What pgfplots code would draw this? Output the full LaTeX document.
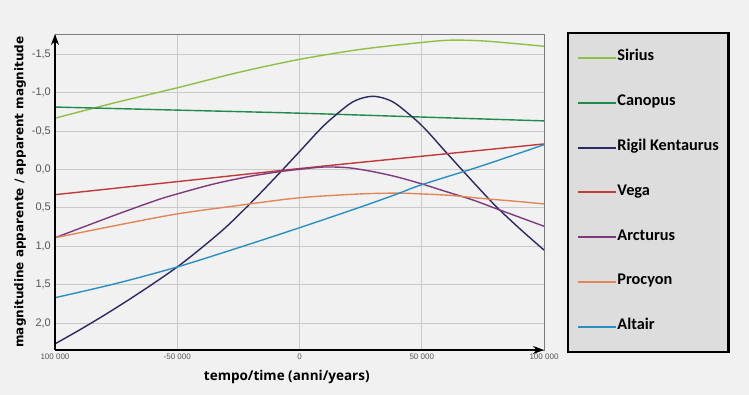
\documentclass[border=0pt]{standalone}
\usepackage{fontspec}
\usepackage{pgfplots}
\usepackage{pgfplotstable}
\pgfplotsset{compat=1.18}
\usetikzlibrary{arrows.meta}
\newfontfamily\carlito{Carlito}
\newfontfamily\opensans{Open Sans}
\newfontfamily\dejavu{DejaVu Sans}
\newfontfamily\libsans{Liberation Sans}
\definecolor{bg}{HTML}{F1F1F1}
\definecolor{leggray}{HTML}{DDDDDD}
\definecolor{gridgray}{HTML}{CACACA}
\definecolor{framegray}{HTML}{7A7A7A}
\definecolor{tickgray}{HTML}{555555}
\definecolor{csirius}{HTML}{8FBF45}
\definecolor{ccanopus}{HTML}{1F8A4C}
\definecolor{crigil}{HTML}{2B2A5E}
\definecolor{cvega}{HTML}{C0393B}
\definecolor{carcturus}{HTML}{7E3A7E}
\definecolor{cprocyon}{HTML}{E0875A}
\definecolor{caltair}{HTML}{2A8FC0}

\pgfplotstableread{
t m
-100000 -0.665
-75000 -0.87
-50000 -1.06
-25000 -1.26
0 -1.43
25000 -1.56
50000 -1.65
62000 -1.68
75000 -1.67
90000 -1.63
100000 -1.60
}\sirius
\pgfplotstableread{
t m
-100000 -0.81
-50000 -0.77
0 -0.73
50000 -0.68
100000 -0.63
}\canopus
\pgfplotstableread{
t m
-100000 2.27
-90000 2.09
-80000 1.90
-70000 1.70
-60000 1.49
-50000 1.27
-40000 1.02
-30000 0.75
-20000 0.44
-10000 0.11
0 -0.23
10000 -0.57
20000 -0.84
25000 -0.92
30000 -0.95
35000 -0.92
40000 -0.84
50000 -0.57
60000 -0.22
70000 0.13
80000 0.47
90000 0.77
100000 1.05
}\rigil
\pgfplotstableread{
t m
-100000 0.33
-50000 0.16
0 -0.01
50000 -0.17
100000 -0.33
}\vega
\pgfplotstableread{
t m
-100000 0.89
-75000 0.59
-58300 0.40
-50000 0.32
-35000 0.19
-20000 0.09
-8000 0.03
0 0.00
10000 -0.03
20000 -0.02
30000 0.03
40000 0.10
50000 0.19
60000 0.29
71000 0.40
82000 0.53
100000 0.74
}\arcturus
\pgfplotstableread{
t m
-100000 0.89
-75000 0.73
-50000 0.58
-25000 0.47
0 0.37
25000 0.32
40000 0.31
50000 0.32
62000 0.34
75000 0.38
90000 0.42
100000 0.45
}\procyon
\pgfplotstableread{
t m
-100000 1.67
-75000 1.485
-50000 1.27
-25000 1.02
0 0.76
25000 0.49
40000 0.32
50000 0.20
75000 -0.05
100000 -0.32
}\altair

\begin{document}
\begin{tikzpicture}
\useasboundingbox (0,0) rectangle (749bp,395bp);
\fill[bg] (0,0) rectangle (749bp,395bp);
\begin{axis}[
  name=main,
  at={(55bp,45bp)}, anchor=south west,
  scale only axis, width=489bp, height=316bp,
  xmin=-100000, xmax=100000, ymin=-1.76, ymax=2.35, y dir=reverse,
  xtick={-100000,-50000,0,50000,100000},
  xticklabels={100 000,-50 000,0,50 000,100 000},
  ytick={-1.5,-1,-0.5,0,0.5,1,1.5,2},
  yticklabels={{-1,5},{-1,0},{-0,5},{0,0},{0,5},{1,0},{1,5},{2,0}},
  scaled x ticks=false,
  major tick length=0pt,
  grid=major, grid style={draw=gridgray, line width=0.6bp},
  axis line style={draw=framegray, line width=0.8bp},
  axis background/.style={fill=bg},
  xticklabel style={font=\libsans\fontsize{8bp}{9bp}\selectfont, text=tickgray, anchor=north, inner sep=0pt, yshift=-4bp},
  yticklabel style={font=\libsans\fontsize{11bp}{13bp}\selectfont, text=tickgray, anchor=east, inner sep=0pt, xshift=-4bp},
  xlabel={tempo/time (anni/years)},
  ylabel={magnitudine apparente / apparent magnitude},
  xlabel style={font=\opensans\bfseries\fontsize{13.5bp}{16bp}\selectfont, at={(axis description cs:0.474,-0.0854)}, anchor=center},
  ylabel style={font=\dejavu\bfseries\fontsize{12bp}{14bp}\selectfont, at={(axis description cs:-0.0716,0.5)}, anchor=center},
  every axis plot/.append style={line width=1.4bp, smooth},
  legend cell align=left,
  legend image code/.code={\draw[#1, line width=2bp] (0bp,0bp) -- (38bp,0bp);},
  legend style={at={(axis description cs:1.049,1.0032)}, anchor=north west,
    fill=leggray, draw=black, line width=2.5bp, outer sep=0pt,
    inner xsep=9.5bp, inner ysep=18bp, row sep=30.8bp,
    font=\carlito\bfseries\fontsize{16.3bp}{18bp}\selectfont,
    nodes={inner sep=0pt, text height=10bp, text depth=4bp},
    /tikz/every even column/.append style={column sep=11bp}},
]
\addplot[csirius] table[x=t,y=m] {\sirius};
\addlegendentry{Sirius}
\addplot[ccanopus] table[x=t,y=m] {\canopus};
\addlegendentry{Canopus}
\addplot[crigil] table[x=t,y=m] {\rigil};
\addlegendentry{Rigil Kentaurus}
\addplot[cvega] table[x=t,y=m] {\vega};
\addlegendentry{Vega}
\addplot[carcturus] table[x=t,y=m] {\arcturus};
\addlegendentry{Arcturus}
\addplot[cprocyon] table[x=t,y=m] {\procyon};
\addlegendentry{Procyon}
\addplot[caltair] table[x=t,y=m] {\altair};
\addlegendentry{Altair}
\end{axis}
\draw[black, line width=2bp, -{Stealth[length=11bp,width=8bp]}] (main.south west) -- (main.north west);
\draw[black, line width=2bp, -{Stealth[length=11bp,width=8bp]}] (main.south west) -- (main.south east);
\end{tikzpicture}
\end{document}
